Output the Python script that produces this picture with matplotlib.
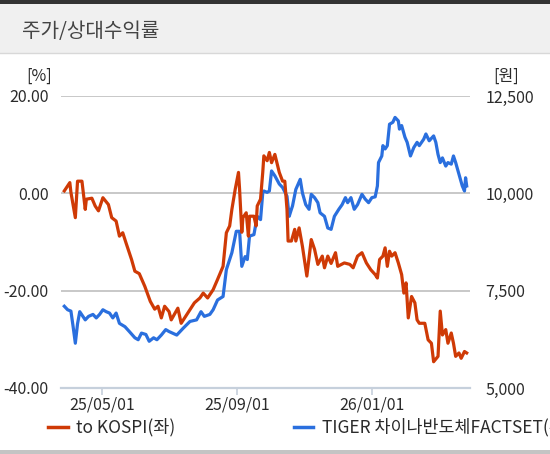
import pandas as pd
import matplotlib
matplotlib.use("Agg")
import matplotlib.pyplot as plt
import matplotlib.dates as mdates
from matplotlib.patches import Rectangle
from matplotlib.lines import Line2D

plt.rcParams['font.family'] = ['Noto Sans CJK KR', 'DejaVu Sans']

# relative return vs KOSPI, % (left axis)
kospi_dates = [
    "2025-03-28", "2025-04-02", "2025-04-03", "2025-04-07", "2025-04-09", "2025-04-13",
    "2025-04-16", "2025-04-17", "2025-04-22", "2025-04-25", "2025-04-28", "2025-05-02",
    "2025-05-07", "2025-05-10", "2025-05-14", "2025-05-17", "2025-05-20", "2025-05-23",
    "2025-05-28", "2025-05-31", "2025-06-04", "2025-06-09", "2025-06-14", "2025-06-18",
    "2025-06-21", "2025-06-24", "2025-06-27", "2025-07-01", "2025-07-03", "2025-07-09",
    "2025-07-12", "2025-07-16", "2025-07-24", "2025-07-29", "2025-08-01", "2025-08-05",
    "2025-08-10", "2025-08-14", "2025-08-19", "2025-08-22", "2025-08-25", "2025-08-27",
    "2025-08-30", "2025-09-02", "2025-09-03", "2025-09-05", "2025-09-06", "2025-09-09",
    "2025-09-11", "2025-09-12", "2025-09-16", "2025-09-18", "2025-09-19", "2025-09-22",
    "2025-09-24", "2025-09-25", "2025-09-28", "2025-09-30", "2025-10-02", "2025-10-05",
    "2025-10-09", "2025-10-12", "2025-10-14", "2025-10-16", "2025-10-17", "2025-10-20",
    "2025-10-23", "2025-10-24", "2025-10-27", "2025-10-30", "2025-11-03", "2025-11-07",
    "2025-11-10", "2025-11-13", "2025-11-17", "2025-11-19", "2025-11-22", "2025-11-25",
    "2025-11-29", "2025-12-01", "2025-12-07", "2025-12-12", "2025-12-15", "2025-12-19",
    "2025-12-23", "2025-12-27", "2025-12-31", "2026-01-04", "2026-01-06", "2026-01-08",
    "2026-01-11", "2026-01-13", "2026-01-15", "2026-01-17", "2026-01-19", "2026-01-22",
    "2026-01-25", "2026-01-28", "2026-01-30", "2026-02-01", "2026-02-03", "2026-02-06",
    "2026-02-09", "2026-02-11", "2026-02-13", "2026-02-18", "2026-02-21", "2026-02-24",
    "2026-02-26", "2026-03-02", "2026-03-04", "2026-03-06", "2026-03-09", "2026-03-11",
    "2026-03-14", "2026-03-16", "2026-03-18", "2026-03-21", "2026-03-23", "2026-03-26",
    "2026-03-28",
]
kospi_rel = [
    0.5, 2.2, 0.2, -5.0, 2.5, 2.5,
    -3.3, -1.2, -1.0, -2.6, -3.6, -0.9,
    -2.3, -5.0, -5.7, -8.8, -8.1, -10.2,
    -13.6, -16.0, -16.5, -19.1, -22.2, -23.8,
    -23.2, -25.6, -23.2, -24.3, -26.0, -23.6,
    -26.7, -25.3, -22.5, -21.5, -20.5, -21.5,
    -19.8, -17.7, -15.0, -8.1, -6.7, -3.3,
    0.8, 4.3, 0.8, -8.0, -5.0, -4.0,
    -8.8, -4.7, -4.7, -6.7, -2.6, -1.2,
    4.3, 7.7, 6.7, 8.4, 6.3, 8.0,
    4.3, 2.5, 2.5, -3.3, -9.8, -9.8,
    -7.4, -9.8, -7.1, -10.9, -17.0, -9.5,
    -11.5, -14.6, -12.9, -15.3, -12.9, -14.4,
    -12.2, -15.0, -14.3, -14.6, -15.3, -12.9,
    -12.2, -14.3, -15.7, -16.7, -17.4, -13.6,
    -12.9, -11.2, -15.0, -11.9, -12.9, -12.2,
    -14.3, -16.7, -20.5, -18.4, -25.6, -21.2,
    -22.5, -26.0, -26.7, -26.7, -30.1, -30.8,
    -34.6, -33.5, -24.2, -29.1, -28.0, -30.8,
    -28.7, -30.8, -33.5, -32.8, -33.9, -32.5,
    -32.8,
]

# TIGER 차이나반도체FACTSET price, 원 (right axis)
etf_dates = [
    "2025-03-28", "2025-03-31", "2025-04-03", "2025-04-05", "2025-04-07", "2025-04-09",
    "2025-04-11", "2025-04-16", "2025-04-19", "2025-04-23", "2025-04-26", "2025-04-29",
    "2025-05-02", "2025-05-05", "2025-05-08", "2025-05-11", "2025-05-14", "2025-05-17",
    "2025-05-22", "2025-05-26", "2025-05-31", "2025-06-03", "2025-06-06", "2025-06-10",
    "2025-06-13", "2025-06-17", "2025-06-20", "2025-06-24", "2025-06-28", "2025-07-01",
    "2025-07-08", "2025-07-14", "2025-07-20", "2025-07-26", "2025-07-30", "2025-08-02",
    "2025-08-07", "2025-08-10", "2025-08-14", "2025-08-19", "2025-08-22", "2025-08-27",
    "2025-08-31", "2025-09-03", "2025-09-05", "2025-09-08", "2025-09-10", "2025-09-12",
    "2025-09-16", "2025-09-19", "2025-09-22", "2025-09-24", "2025-09-25", "2025-09-28",
    "2025-09-30", "2025-10-02", "2025-10-05", "2025-10-09", "2025-10-12", "2025-10-16",
    "2025-10-18", "2025-10-20", "2025-10-21", "2025-10-24", "2025-10-28", "2025-10-30",
    "2025-11-02", "2025-11-05", "2025-11-07", "2025-11-10", "2025-11-13", "2025-11-15",
    "2025-11-19", "2025-11-22", "2025-11-25", "2025-11-28", "2025-12-02", "2025-12-05",
    "2025-12-08", "2025-12-10", "2025-12-13", "2025-12-16", "2025-12-19", "2025-12-23",
    "2025-12-26", "2025-12-29", "2026-01-01", "2026-01-04", "2026-01-06", "2026-01-07",
    "2026-01-10", "2026-01-11", "2026-01-13", "2026-01-15", "2026-01-17", "2026-01-20",
    "2026-01-22", "2026-01-25", "2026-01-26", "2026-01-28", "2026-01-31", "2026-02-02",
    "2026-02-05", "2026-02-08", "2026-02-11", "2026-02-13", "2026-02-17", "2026-02-19",
    "2026-02-22", "2026-02-26", "2026-02-28", "2026-03-02", "2026-03-04", "2026-03-06",
    "2026-03-09", "2026-03-11", "2026-03-14", "2026-03-16", "2026-03-18", "2026-03-21",
    "2026-03-24", "2026-03-26", "2026-03-27", "2026-03-28",
]
etf_price = [
    7100, 7010, 6975, 6575, 6150, 6650,
    6960, 6750, 6840, 6890, 6800, 6890,
    7010, 6960, 6925, 6800, 6925, 6660,
    6575, 6450, 6290, 6240, 6410, 6375,
    6200, 6290, 6240, 6360, 6500, 6450,
    6360, 6540, 6710, 6750, 6960, 6840,
    6890, 7010, 7260, 7350, 8040, 8475,
    9025, 9025, 8125, 8375, 8300, 8900,
    8940, 9410, 9325, 10010, 10060, 10025,
    10060, 10575, 10450, 10240, 10150, 9925,
    9410, 9590, 9675, 10100, 10360, 10010,
    9710, 9590, 9975, 9890, 9760, 9500,
    9410, 9110, 9075, 9410, 9590, 9710,
    9890, 9760, 9890, 9590, 9710, 9975,
    9850, 9760, 9890, 9910, 10190, 10790,
    10960, 11225, 11140, 11225, 11775, 11825,
    11950, 11860, 11650, 11740, 11440, 11310,
    10960, 11175, 11310, 11225, 11390, 11525,
    11350, 11475, 11310, 11000, 10790, 10910,
    10700, 10790, 10750, 10960, 10790, 10490,
    10190, 10060, 10400, 10190,
]

x_ticks = ["2025-05-01", "2025-09-01", "2026-01-01"]
left_ticks = [-40, -20, 0, 20]
right_ticks = [5000, 7500, 10000, 12500]

W, H = 550, 454
RED = "#cf3a06"
BLUE = "#2a6fde"
TXT = "#2b2b2b"
FS = 11.5


def fx(px):
    return px / W


def fy(py):
    return 1 - py / H


fig = plt.figure(figsize=(W / 100, H / 100), dpi=100)

# header band
fig.add_artist(Rectangle((0, fy(53)), 1, fy(4) - fy(53), transform=fig.transFigure,
                         facecolor="#f0f0f0", edgecolor="none"))
fig.add_artist(Rectangle((0, fy(4)), 1, fy(0) - fy(4), transform=fig.transFigure,
                         facecolor="#333333", edgecolor="none"))
fig.add_artist(Line2D([0, 1], [fy(53), fy(53)], transform=fig.transFigure,
                      color="#d8d8d8", lw=1))
fig.text(fx(22), fy(32), "주가/상대수익률", fontsize=14.5, color="#444444",
         ha="left", va="center")
# bottom band
fig.add_artist(Rectangle((0, 0), 1, fy(450), transform=fig.transFigure,
                         facecolor="#c4c4c4", edgecolor="none"))

ax2 = fig.add_axes([fx(61), fy(388), fx(470) - fx(61), fy(96) - fy(388)])
ax = ax2.twinx()
ax.yaxis.tick_left()
ax2.yaxis.tick_right()

kd = pd.to_datetime(kospi_dates)
ed = pd.to_datetime(etf_dates)

ax2.plot(ed, etf_price, color=BLUE, lw=2.3, solid_joinstyle="round")
ax.plot(kd, kospi_rel, color=RED, lw=2.3, solid_joinstyle="round")

ax2.set_ylim(5000, 12500)
ax.set_ylim(-40, 20)
ax2.set_yticks(right_ticks)
ax2.set_yticklabels([f"{v:,}" for v in right_ticks])
ax.set_yticks(left_ticks)
ax.set_yticklabels([f"{v:.2f}" for v in left_ticks])
ax2.set_xlim(pd.Timestamp("2025-03-25"), pd.Timestamp("2026-03-31"))
ax2.set_xticks(pd.to_datetime(x_ticks))
ax2.xaxis.set_major_formatter(mdates.DateFormatter("%y/%m/%d"))

ax2.grid(axis="y", color="#c4c4c4", lw=1.3)
ax2.set_axisbelow(True)

for a in (ax, ax2):
    for s in a.spines.values():
        s.set_visible(False)
ax2.spines["bottom"].set_visible(True)
ax2.spines["bottom"].set_color("#c6d0dc")
ax2.spines["bottom"].set_linewidth(1.6)

ax.tick_params(axis="y", length=0, pad=9, labelsize=FS, labelcolor=TXT)
ax2.tick_params(axis="y", length=0, pad=11, labelsize=FS, labelcolor=TXT)
ax2.tick_params(axis="x", length=5, width=1.2, color="#c6d0dc", pad=1,
                labelsize=FS, labelcolor=TXT)

fig.text(fx(52), fy(76), "[%]", fontsize=FS, color=TXT, ha="right", va="center")
fig.text(fx(506), fy(76), "[원]", fontsize=FS, color=TXT, ha="center", va="center")

# legend
fig.add_artist(Line2D([fx(48), fx(68)], [fy(427), fy(427)], transform=fig.transFigure,
                      color=RED, lw=2.5))
fig.text(fx(76), fy(427), "to KOSPI(좌)", fontsize=12.5, color=TXT, ha="left", va="center")
fig.add_artist(Line2D([fx(294), fx(313)], [fy(427), fy(427)], transform=fig.transFigure,
                      color=BLUE, lw=2.5))
fig.text(fx(322), fy(427), "TIGER 차이나반도체FACTSET(우)", fontsize=12.5, color=TXT,
         ha="left", va="center")

fig.savefig("out.png", dpi=100)
